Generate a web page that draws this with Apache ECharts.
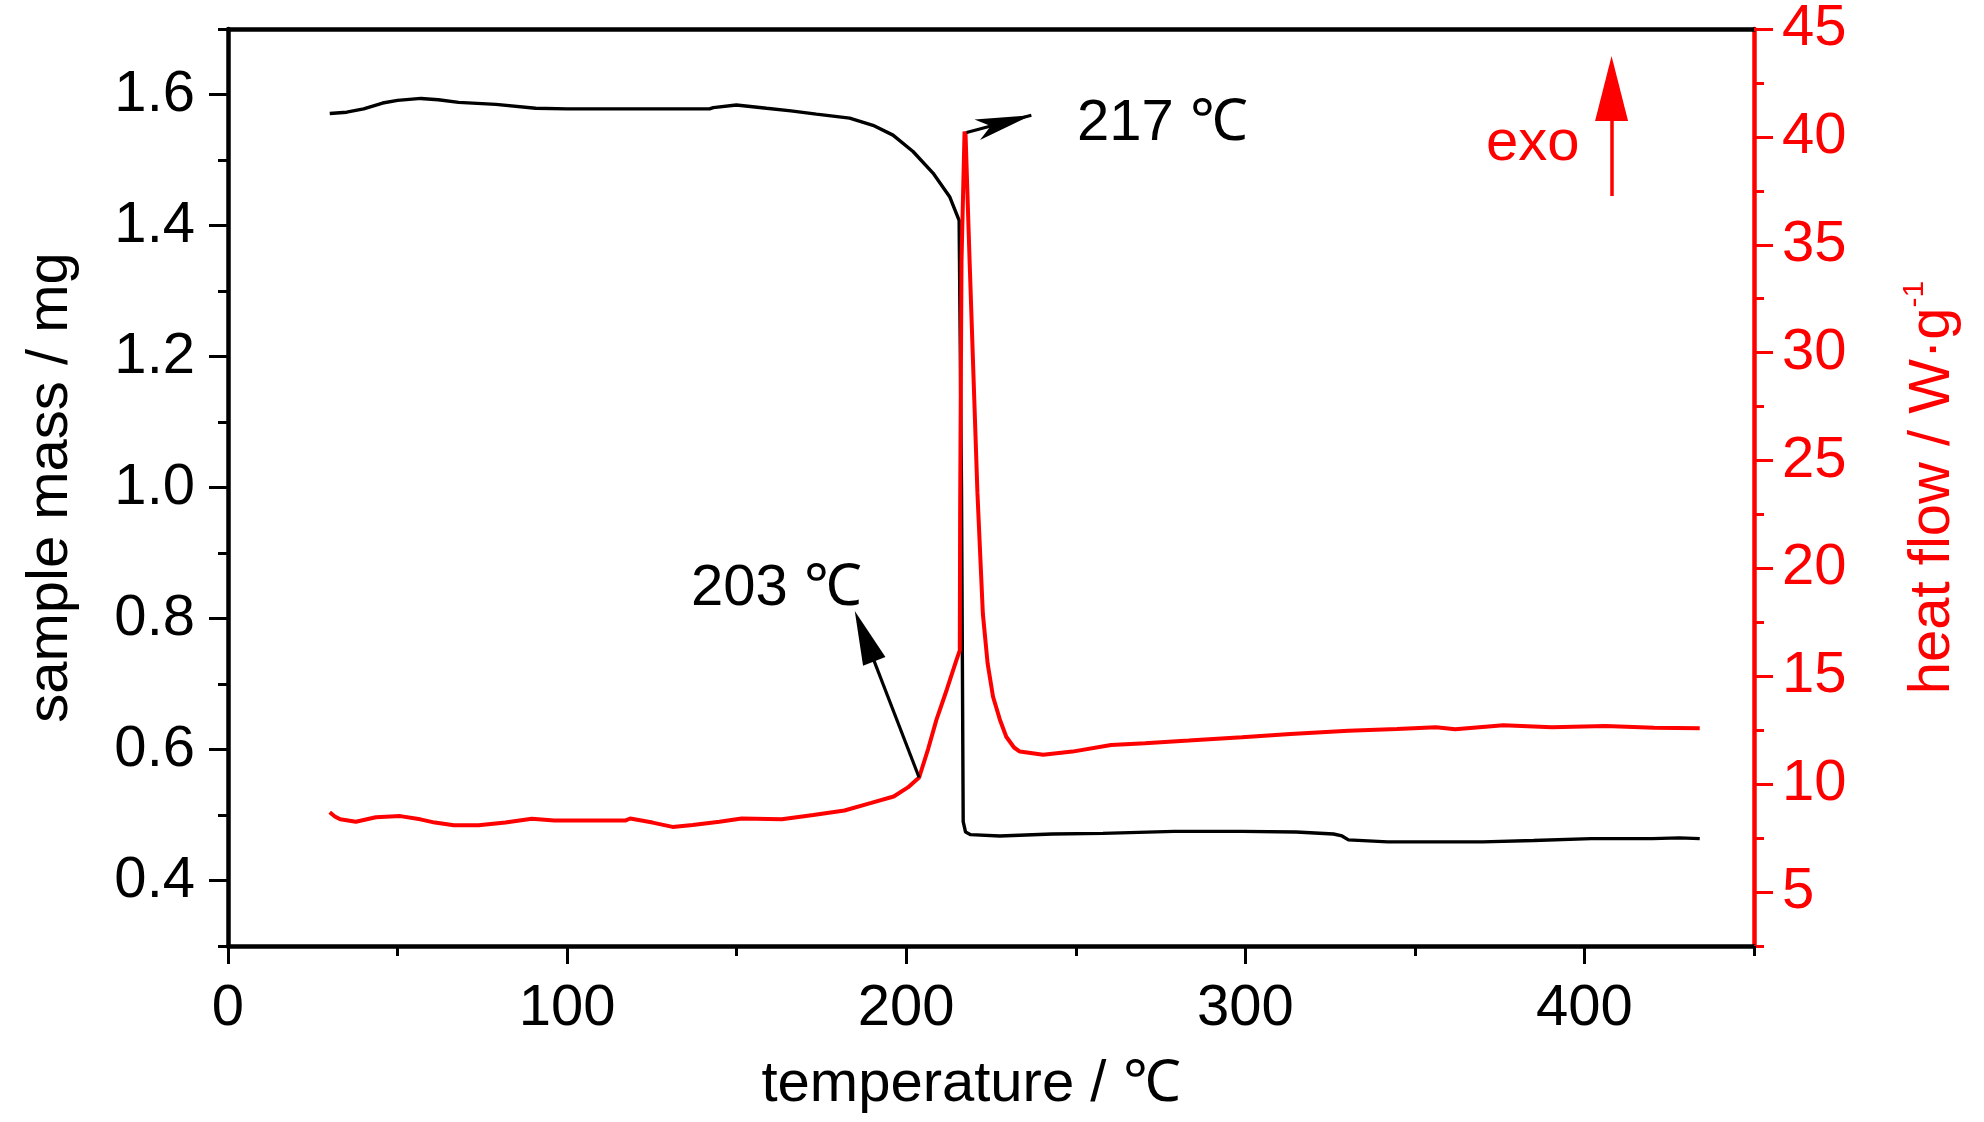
<!DOCTYPE html>
<html>
<head>
<meta charset="utf-8">
<script src="https://cdn.jsdelivr.net/npm/echarts@6/dist/echarts.min.js"></script>
<style>
  html, body { margin: 0; padding: 0; background: #fff; }
  #chart { width: 1984px; height: 1122px; }
</style>
</head>
<body>
<div id="chart"></div>
<script>
// TG curve (black, left axis)
let massTemp = [30, 35, 40, 45.6, 50, 56.9, 62, 68, 79, 90.7, 100, 110, 120, 130, 142, 143.1, 149.9, 158.8,
  166, 173.5, 183.3, 190.2, 196.1, 202, 207.9, 212.8, 215.6, 216.3, 216.8, 217.5, 219, 227.6, 243, 258, 279,
  299, 315, 326, 328.5, 330.4, 342, 370, 385, 402, 420, 428, 434]
let mass = [1.571, 1.573, 1.578, 1.587, 1.591, 1.594, 1.592, 1.588, 1.585, 1.579, 1.578, 1.578, 1.578, 1.578,
  1.578, 1.580, 1.584, 1.579, 1.575, 1.570, 1.564, 1.553, 1.538, 1.513, 1.480, 1.444, 1.408, 1.0, 0.49, 0.474,
  0.470, 0.468, 0.471, 0.472, 0.475, 0.475, 0.474, 0.471, 0.468, 0.462, 0.459, 0.459, 0.461, 0.464, 0.464,
  0.465, 0.464]

// DSC curve (red, right axis)
let heatTemp = [30, 31.5, 33.1, 37.7, 43.6, 50.8, 56.7, 61, 66.6, 73.9, 81.8, 89.6, 96.2, 117.3, 118.6, 125.2,
  131.1, 137, 144.9, 151.5, 163.3, 172.6, 181.8, 189.7, 196.3, 200.5, 203.8, 206.5, 208.9, 212, 214.8, 215.8,
  215.9, 216.3, 217.2, 217.5, 218.7, 221, 222.6, 224, 225.6, 227.6, 229.5, 231.8, 233.5, 240.4, 249, 260.4,
  270.4, 283.3, 299, 313.3, 330.4, 344.7, 356.2, 361.9, 376.1, 390.4, 406.2, 420.5, 434]
let heat = [8.70, 8.50, 8.37, 8.26, 8.47, 8.52, 8.37, 8.22, 8.10, 8.10, 8.22, 8.40, 8.32, 8.32, 8.41, 8.22,
  8.02, 8.11, 8.26, 8.41, 8.37, 8.57, 8.78, 9.13, 9.43, 9.85, 10.31, 11.65, 12.98, 14.4, 15.75, 16.2,
  22.7, 34.2, 40.25, 40.1, 34.2, 23.5, 17.9, 15.6, 14.05, 13.0, 12.2, 11.7, 11.51, 11.36, 11.51, 11.82,
  11.9, 12.02, 12.18, 12.33, 12.48, 12.56, 12.64, 12.55, 12.73, 12.64, 12.70, 12.61, 12.59]

let tempTicks = [0, 100, 200, 300, 400]
let tempMinorTicks = [50, 150, 250, 350, 450]
let massTicks = [0.4, 0.6, 0.8, 1.0, 1.2, 1.4, 1.6]
let massMinorTicks = [0.3, 0.5, 0.7, 0.9, 1.1, 1.3, 1.5, 1.7]
let heatTicks = [5, 10, 15, 20, 25, 30, 35, 40, 45]
let heatMinorTicks = [2.5, 7.5, 12.5, 17.5, 22.5, 27.5, 32.5, 37.5, 42.5]

const FONT = "'Liberation Sans', Arial, sans-serif"
const FS = 58

let chart = echarts.init(document.getElementById('chart'), null, {renderer: 'canvas'})

function minorAxis(position, min, max, ticks, color) {
  return {
    type: 'value',
    position: position,
    min: min,
    max: max,
    splitLine: {show: false},
    axisLine: {show: false, onZero: false},
    axisLabel: {show: false},
    axisTick: {
      show: true,
      customValues: ticks,
      length: 10,
      lineStyle: {color: color, width: 3}
    }
  }
}

let option = {
  animation: false,
  backgroundColor: '#ffffff',
  grid: {
    left: 228,
    right: 230,
    top: 29,
    bottom: 176,
    outerBoundsMode: 'none'
  },
  xAxis: [
    {
      type: 'value',
      position: 'bottom',
      min: 0,
      max: 450,
      name: 'temperature / ℃',
      nameLocation: 'middle',
      nameGap: 110,
      nameTextStyle: {color: '#000', fontSize: FS, fontFamily: FONT, padding: [0, 40, 0, 0]},
      splitLine: {show: false},
      axisLine: {onZero: false, lineStyle: {color: '#000', width: 4.5}},
      axisTick: {customValues: tempTicks, length: 18, lineStyle: {color: '#000', width: 3}},
      axisLabel: {
        customValues: tempTicks,
        margin: 34,
        color: '#000',
        fontSize: FS,
        fontFamily: FONT
      }
    },
    minorAxis('bottom', 0, 450, tempMinorTicks, '#000'),
    {
      type: 'value',
      position: 'top',
      min: 0,
      max: 450,
      splitLine: {show: false},
      axisLine: {onZero: false, lineStyle: {color: '#000', width: 4.5}},
      axisTick: {show: false},
      axisLabel: {show: false}
    }
  ],
  yAxis: [
    {
      type: 'value',
      position: 'left',
      min: 0.3,
      max: 1.7,
      name: 'sample mass / mg',
      nameLocation: 'middle',
      nameGap: 148,
      nameTextStyle: {color: '#000', fontSize: FS, fontFamily: FONT},
      splitLine: {show: false},
      axisLine: {onZero: false, lineStyle: {color: '#000', width: 4.5}},
      axisTick: {customValues: massTicks, length: 19, lineStyle: {color: '#000', width: 3}},
      axisLabel: {
        customValues: massTicks,
        margin: 33,
        color: '#000',
        fontSize: FS,
        fontFamily: FONT,
        formatter: function (v) { return v.toFixed(1) }
      }
    },
    {
      type: 'value',
      position: 'right',
      min: 2.5,
      max: 45,
      name: 'heat flow / W·g{sup|-1}',
      nameLocation: 'middle',
      nameGap: 146,
      nameRotate: 90,
      nameTextStyle: {
        color: '#ff0000',
        fontSize: FS,
        fontFamily: FONT,
        lineHeight: 66,
        rich: {
          sup: {color: '#ff0000', fontSize: 30, fontFamily: FONT, verticalAlign: 'top', lineHeight: 66}
        }
      },
      splitLine: {show: false},
      axisLine: {onZero: false, lineStyle: {color: '#ff0000', width: 4.5}},
      axisTick: {customValues: heatTicks, length: 19, lineStyle: {color: '#ff0000', width: 3}},
      axisLabel: {
        customValues: heatTicks,
        margin: 28,
        color: '#ff0000',
        fontSize: FS,
        fontFamily: FONT
      }
    },
    minorAxis('left', 0.3, 1.7, massMinorTicks, '#000'),
    minorAxis('right', 2.5, 45, heatMinorTicks, '#ff0000')
  ],
  series: [
    {
      name: 'sample mass',
      type: 'line',
      xAxisIndex: 0,
      yAxisIndex: 0,
      showSymbol: false,
      symbol: 'none',
      lineStyle: {color: '#000', width: 3.4},
      itemStyle: {color: '#000'},
      data: massTemp.map(function (t, i) { return [t, mass[i]] })
    },
    {
      name: 'heat flow',
      type: 'line',
      xAxisIndex: 0,
      yAxisIndex: 1,
      showSymbol: false,
      symbol: 'none',
      lineStyle: {color: '#ff0000', width: 4},
      itemStyle: {color: '#ff0000'},
      data: heatTemp.map(function (t, i) { return [t, heat[i]] }),
      markLine: {
        silent: true,
        animation: false,
        symbol: ['none', 'arrow'],
        label: {show: false},
        emphasis: {disabled: true},
        lineStyle: {type: 'solid', width: 3},
        data: [
          [
            {coord: [217.8, 40.2], lineStyle: {color: '#000', width: 3.2, type: 'solid'}},
            {coord: [236.9, 41.0], symbol: 'arrow', symbolSize: [16, 56], itemStyle: {color: '#000'}}
          ],
          [
            {coord: [203.8, 10.31], lineStyle: {color: '#000', width: 3.2, type: 'solid'}},
            {coord: [187.7, 16.86], symbol: 'triangle', symbolSize: [24, 54], itemStyle: {color: '#000'}}
          ],
          [
            {coord: [408.0, 37.26], lineStyle: {color: '#ff0000', width: 3.5, type: 'solid'}},
            {coord: [408.0, 42.24], symbol: 'triangle', symbolSize: [33, 65], itemStyle: {color: '#ff0000'}}
          ]
        ]
      }
    }
  ],
  graphic: [
    {
      type: 'text',
      left: 1077,
      top: 95,
      style: {text: '217 ℃', fill: '#000', font: FS + 'px ' + FONT}
    },
    {
      type: 'text',
      left: 691,
      top: 560,
      style: {text: '203 ℃', fill: '#000', font: FS + 'px ' + FONT}
    },
    {
      type: 'text',
      left: 1486,
      top: 115,
      style: {text: 'exo', fill: '#ff0000', font: FS + 'px ' + FONT}
    }
  ]
}

chart.setOption(option)
</script>
</body>
</html>
